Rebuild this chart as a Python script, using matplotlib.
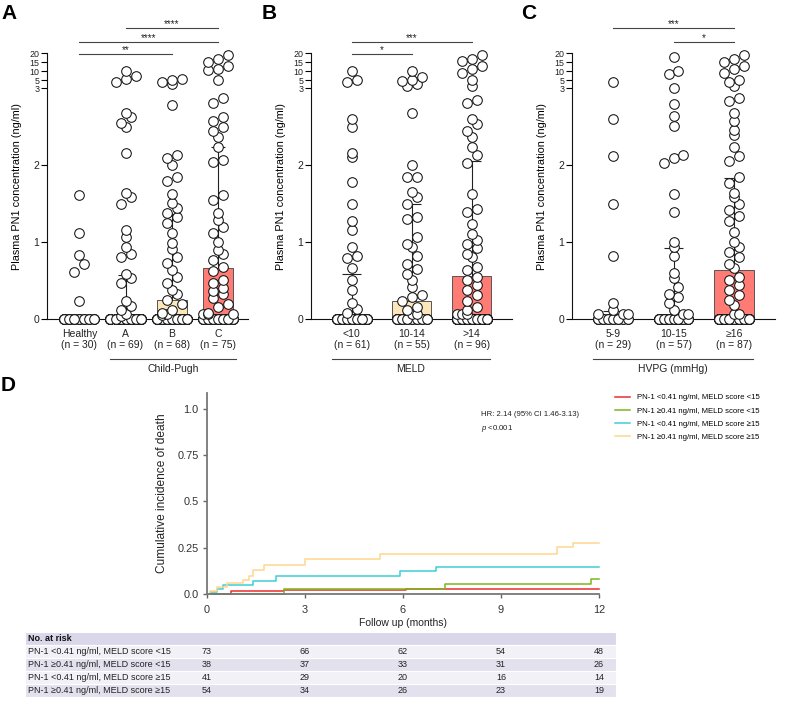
import numpy as np
import matplotlib.pyplot as plt
import matplotlib.transforms as mtransforms
from matplotlib import font_manager
from matplotlib.patches import Rectangle

W, H = 787, 707

names = {f.name for f in font_manager.fontManager.ttflist}
HAS_NARROW = "Liberation Sans Narrow" in names
NARROW = "Liberation Sans Narrow" if HAS_NARROW else "Liberation Sans"
NS = 1.0 if HAS_NARROW else 0.93  # shrink plain font to the narrow widths
plt.rcParams["font.family"] = ["Liberation Sans", "DejaVu Sans"]
plt.rcParams["mathtext.fontset"] = "custom"
plt.rcParams["mathtext.it"] = NARROW + ":italic"
plt.rcParams["mathtext.rm"] = NARROW

# ---------------- panel A: Child-Pugh ----------------
cp_names = ["Healthy", "A", "B", "C"]
cp_n = [30, 69, 68, 75]
cp_healthy = [0.23, 0.61, 0.71, 0.83, 1.12, 1.61]
cp_a = [0.04, 0.06, 0.12, 0.17, 0.23, 0.47, 0.53, 0.59, 0.81, 0.84, 0.94, 1.07, 1.16,
        1.50, 1.59, 1.64, 2.16, 2.49, 2.55, 2.62, 2.68, 4.5, 5.5, 7.5, 10]
cp_b = [0.05, 0.06, 0.08, 0.12, 0.19, 0.25, 0.32, 0.38, 0.47, 0.55, 0.64, 0.73, 0.81,
        0.91, 0.99, 1.12, 1.25, 1.33, 1.38, 1.44, 1.51, 1.63, 1.79, 1.85, 2.0, 2.09,
        2.13, 2.78, 4.0, 4.5, 5, 5.5]
cp_c = [0.06, 0.06, 0.06, 0.08, 0.16, 0.19, 0.27, 0.32, 0.36, 0.40, 0.47, 0.51, 0.62,
        0.68, 0.77, 0.84, 0.90, 1.0, 1.12, 1.20, 1.29, 1.38, 1.55, 1.61, 2.04, 2.06,
        2.24, 2.37, 2.44, 2.49, 2.57, 2.63, 2.81, 2.87, 5, 10.5, 11, 13, 15, 17, 19]
cp_median = [0, 0, 0.25, 0.66]
cp_q3 = [0, 0.57, 1.37, 2.23]
cp_brackets = [(0, 2, "**", 0.997), (0, 3, "****", 1.042), (1, 3, "****", 1.095)]

# ---------------- panel B: MELD ----------------
meld_names = ["<10", "10-14", ">14"]
meld_n = [61, 55, 96]
meld_lt10 = [0.08, 0.13, 0.21, 0.38, 0.51, 0.66, 0.79, 0.82, 0.94, 1.16, 1.27, 1.5,
             1.78, 2.1, 2.16, 2.5, 2.6, 4.5, 5, 10]
meld_10_14 = [0.06, 0.06, 0.12, 0.16, 0.23, 0.28, 0.31, 0.42, 0.51, 0.59, 0.65, 0.72,
              0.82, 0.93, 0.98, 1.06, 1.30, 1.32, 1.50, 1.58, 1.65, 1.84, 1.85, 2.0,
              2.67, 3.5, 4.0, 4.7, 5, 7, 10]
meld_gt14 = [0.06, 0.06, 0.06, 0.12, 0.16, 0.23, 0.31, 0.38, 0.44, 0.51, 0.55, 0.64,
             0.68, 0.81, 0.85, 0.92, 0.98, 1.03, 1.11, 1.24, 1.39, 1.43, 1.62, 2.03,
             2.13, 2.23, 2.36, 2.44, 2.53, 2.6, 2.8, 2.85, 3.5, 5, 9, 11, 13, 15.5, 17, 19]
meld_median = [0, 0.23, 0.56]
meld_q3 = [0.58, 1.49, 2.05]
meld_brackets = [(0, 1, "*", 0.997), (0, 2, "***", 1.042)]

# ---------------- panel C: HVPG ----------------
hvpg_names = ["5-9", "10-15", "\u226516"]
hvpg_n = [29, 57, 87]
hvpg_5_9 = [0.06, 0.06, 0.06, 0.12, 0.21, 0.82, 1.5, 2.12, 2.6, 4.5]
hvpg_10_15 = [0.06, 0.06, 0.12, 0.21, 0.29, 0.33, 0.42, 0.53, 0.6, 0.82, 0.94, 1.0,
              1.39, 1.62, 2.02, 2.09, 2.13, 2.51, 2.64, 2.79, 3.0, 8.5, 10, 18]
hvpg_ge16 = [0.06, 0.06, 0.18, 0.25, 0.31, 0.38, 0.44, 0.51, 0.55, 0.66, 0.72, 0.81,
             0.87, 0.94, 1.0, 1.13, 1.27, 1.34, 1.41, 1.49, 1.58, 1.64, 1.77, 1.84,
             2.05, 2.12, 2.24, 2.39, 2.46, 2.57, 2.67, 2.83, 2.87, 3.5, 4.5, 5, 9, 11,
             13, 15, 17, 19]
hvpg_median = [0, 0, 0.64]
hvpg_q3 = [0.1, 0.92, 1.83]
hvpg_brackets = [(0, 2, "***", 1.095), (1, 2, "*", 1.042)]

# ---------------- panel D: cumulative incidence ----------------
ci_labels = ["PN-1 <0.41 ng/ml, MELD score <15", "PN-1 \u22650.41 ng/ml, MELD score <15",
             "PN-1 <0.41 ng/ml, MELD score \u226515", "PN-1 \u22650.41 ng/ml, MELD score \u226515"]
ci_colors = ["#EE2B2B", "#7DB61C", "#3DCFD7", "#FFD68E"]
t_red = [0, 0.73, 2.35, 6.1, 12]
y_red = [0, 0.014, 0.019, 0.028, 0.028]
t_green = [0, 2.35, 7.3, 11.75, 12]
y_green = [0, 0.027, 0.055, 0.082, 0.082]
t_cyan = [0, 0.1, 0.3, 0.5, 1.42, 2.1, 5.9, 7.0, 12]
y_cyan = [0, 0.01, 0.027, 0.046, 0.07, 0.097, 0.122, 0.146, 0.146]
t_yellow = [0, 0.09, 0.3, 0.6, 1.1, 1.3, 1.42, 1.73, 3.0, 5.3, 10.7, 11.2, 12]
y_yellow = [0, 0.018, 0.04, 0.058, 0.077, 0.095, 0.13, 0.155, 0.19, 0.215, 0.255, 0.275, 0.275]

risk_months = [0, 3, 6, 9, 12]
risk_1 = [73, 66, 62, 54, 48]
risk_2 = [38, 37, 33, 31, 26]
risk_3 = [41, 29, 20, 16, 14]
risk_4 = [54, 34, 26, 23, 19]


def fwd(v):
    v = np.asarray(v, float)
    return np.where(v <= 3, v, np.where(v <= 5, 3 + (v - 3) * 0.05, 3.1 + (v - 5) * 0.0235))


def inv(u):
    u = np.asarray(u, float)
    return np.where(u <= 3, u, np.where(u <= 3.1, 3 + (u - 3) / 0.05, 5 + (u - 3.1) / 0.0235))


def px_axes(fig, x0, y0, x1, y1):
    return fig.add_axes([x0 / W, 1 - y1 / H, (x1 - x0) / W, (y1 - y0) / H])


def swarm(values, center, ppu, ypx=77.0, dpx=10.0, maxpx=30.0, max_slots=7):
    # Prism-like scatter: points of a row share a limited number of slots
    vals = np.sort(np.asarray(values, float))
    bins = np.round(fwd(vals) * ypx / dpx).astype(int)
    xs = np.full(len(vals), float(center))
    for b in np.unique(bins):
        idx = np.where(bins == b)[0]
        k = len(idx)
        if k > 1:
            m = min(k, max_slots)
            w = min((m - 1) * dpx, maxpx) / ppu
            slots = center + np.linspace(-w / 2, w / 2, m)
            xs[idx] = slots[np.arange(k) % m]
    return xs, vals


def dot_panel(ax, groups, n, names, median, q3, colors, brackets, title, span, xlim, ppu):
    ax.set_yscale("function", functions=(fwd, inv))
    ax.set_ylim(0, 20)
    ax.set_xlim(*xlim)
    x = np.arange(len(groups))
    ax.bar(x, median, width=0.65, color=colors, edgecolor="#555", linewidth=0.7, zorder=1)
    ax.vlines(x, median, q3, color="#222", lw=0.8, zorder=2)
    ax.hlines(q3, x - 0.16, x + 0.16, color="#222", lw=0.8, zorder=2)
    for i, vals in enumerate(groups):
        allv = np.concatenate([np.zeros(n[i] - len(vals)), vals])
        xs, ys = swarm(allv, i, ppu)
        ax.scatter(xs, ys, s=48, facecolor="white", edgecolor="#111", linewidth=0.75,
                   zorder=3, clip_on=False)
    ticks = [0, 1, 2, 3, 5, 10, 15, 20]
    ax.set_yticks(ticks, [str(t) for t in ticks])
    ax.tick_params(axis="y", length=4, width=0.8, labelsize=7.5, pad=1.5, labelcolor="#222")
    for lab in ax.get_yticklabels()[3:]:
        lab.set_fontsize(6.4)
    ax.set_xticks(x, [f"{a}\n(n = {b})" for a, b in zip(names, n)])
    ax.tick_params(axis="x", length=0, pad=7, labelsize=7.5, labelcolor="#222")
    for s in ["top", "right"]:
        ax.spines[s].set_visible(False)
    for s in ["left", "bottom"]:
        ax.spines[s].set_linewidth(0.8)
        ax.spines[s].set_color("#111")
    ax.set_ylabel("Plasma PN1 concentration (ng/ml)", fontsize=7.8, labelpad=5)
    tr = mtransforms.blended_transform_factory(ax.transData, ax.transAxes)
    for i, j, stars, yf in brackets:
        ax.plot([i, j], [yf, yf], transform=tr, color="#444", lw=0.8, clip_on=False)
        ax.text((i + j) / 2, yf + 0.003, stars, transform=tr, ha="center", va="baseline",
                fontsize=7, color="#222")
    ax.plot(span, [-0.15, -0.15], transform=tr, color="#444", lw=0.8, clip_on=False)
    ax.text(sum(span) / 2, -0.188, title, transform=tr, ha="center", va="center",
            fontsize=7.5, color="#222")


fig = plt.figure(figsize=(W / 100, H / 100), dpi=100)

TAN = "#FDE6BA"
RED = "#FF7B73"

axa = px_axes(fig, 47, 53.2, 248, 319)
dot_panel(axa, [cp_healthy, cp_a, cp_b, cp_c], cp_n, cp_names, cp_median, cp_q3,
          ["white", "white", TAN, RED], cp_brackets, "Child-Pugh", [0.67, 3.39],
          (-0.7, 3.65), 46.0)

axb = px_axes(fig, 311, 53.2, 512, 319)
dot_panel(axb, [meld_lt10, meld_10_14, meld_gt14], meld_n, meld_names, meld_median,
          meld_q3, ["white", TAN, RED], meld_brackets, "MELD", [-0.33, 2.3],
          (-0.68, 2.67), 60.3)

axc = px_axes(fig, 572, 53.2, 775, 319)
dot_panel(axc, [hvpg_5_9, hvpg_10_15, hvpg_ge16], hvpg_n, hvpg_names, hvpg_median,
          hvpg_q3, ["white", "white", RED], hvpg_brackets, "HVPG (mmHg)", [-0.33, 2.32],
          (-0.68, 2.68), 60.5)

for lab, px, py in [("A", 1, 4), ("B", 262, 4), ("C", 521, 4), ("D", 1, 376)]:
    fig.text(px / W, 1 - py / H, lab, fontsize=15, fontweight="bold", va="top", ha="left")

# ---------------- panel D ----------------
axd = px_axes(fig, 207, 393, 599, 594)
for t, y, c, lab in zip([t_red, t_green, t_cyan, t_yellow], [y_red, y_green, y_cyan, y_yellow],
                        ci_colors, ci_labels):
    axd.step(t, y, where="post", color=c, lw=1.1, label=lab, clip_on=False)
axd.set_xlim(0, 12)
axd.set_ylim(0, 1.086)
axd.set_xticks(risk_months, [str(m) for m in risk_months], fontfamily=NARROW)
axd.set_yticks([0, 0.25, 0.5, 0.75, 1.0], ["0.0", "0.25", "0.5", "0.75", "1.0"],
               fontfamily=NARROW)
axd.tick_params(length=3, width=1, color="#666", labelsize=8.5 * NS, labelcolor="#333", pad=3)
axd.tick_params(axis="x", pad=5)
for s in ["top", "right"]:
    axd.spines[s].set_visible(False)
for s in ["left", "bottom"]:
    axd.spines[s].set_linewidth(1.3)
    axd.spines[s].set_color("#777")
axd.set_xlabel("Follow up (months)", fontfamily=NARROW, fontsize=8 * NS, labelpad=2, color="#222")
axd.set_ylabel("Cumulative incidence of death", fontfamily=NARROW, fontsize=9.2 * NS,
               labelpad=7, color="#222")
axd.legend(loc="upper left", bbox_to_anchor=(615 / W, 1 - 394 / H), bbox_transform=fig.transFigure,
           frameon=False, prop={"family": NARROW, "size": 6 * NS}, handlelength=1.9,
           handletextpad=1.0, labelspacing=0.75, borderpad=0, borderaxespad=0)
fig.text(481 / W, 1 - 414 / H, "HR: 2.14 (95% CI 1.46-3.13)", fontfamily=NARROW,
         fontsize=6 * NS, va="center", color="#222")
fig.text(481 / W, 1 - 429 / H, r"$\it{p}$ <0.001", fontfamily=NARROW, fontsize=6 * NS,
         va="center", color="#222")

# ---------------- number at risk table ----------------
axt = px_axes(fig, 25, 632, 616, 697)
x_lo, x_hi = (25 - 207) / 392 * 12, (616 - 207) / 392 * 12
axt.set_xlim(x_lo, x_hi)
axt.set_ylim(5, 0)
axt.axis("off")
row_colors = ["#D9D7E9", "#F2F1F8", "#E3E1EE", "#F2F1F8", "#E3E1EE"]
for r, c in enumerate(row_colors):
    axt.add_patch(Rectangle((x_lo, r), x_hi - x_lo, 1, facecolor=c, edgecolor="white", lw=0.8))
axt.text(x_lo + 0.1, 0.5, "No. at risk", fontfamily=NARROW, fontweight="bold", fontsize=7 * NS,
         va="center", ha="left", color="#111")
for r, (lab, counts) in enumerate(zip(ci_labels, [risk_1, risk_2, risk_3, risk_4]), start=1):
    axt.text(x_lo + 0.1, r + 0.5, lab, fontfamily=NARROW, fontsize=7 * NS, va="center",
             ha="left", color="#222")
    for m, v in zip(risk_months, counts):
        axt.text(m, r + 0.5, str(v), fontfamily=NARROW, fontsize=7 * NS, va="center",
                 ha="center", color="#222")

fig.savefig("out.png", dpi=100)
